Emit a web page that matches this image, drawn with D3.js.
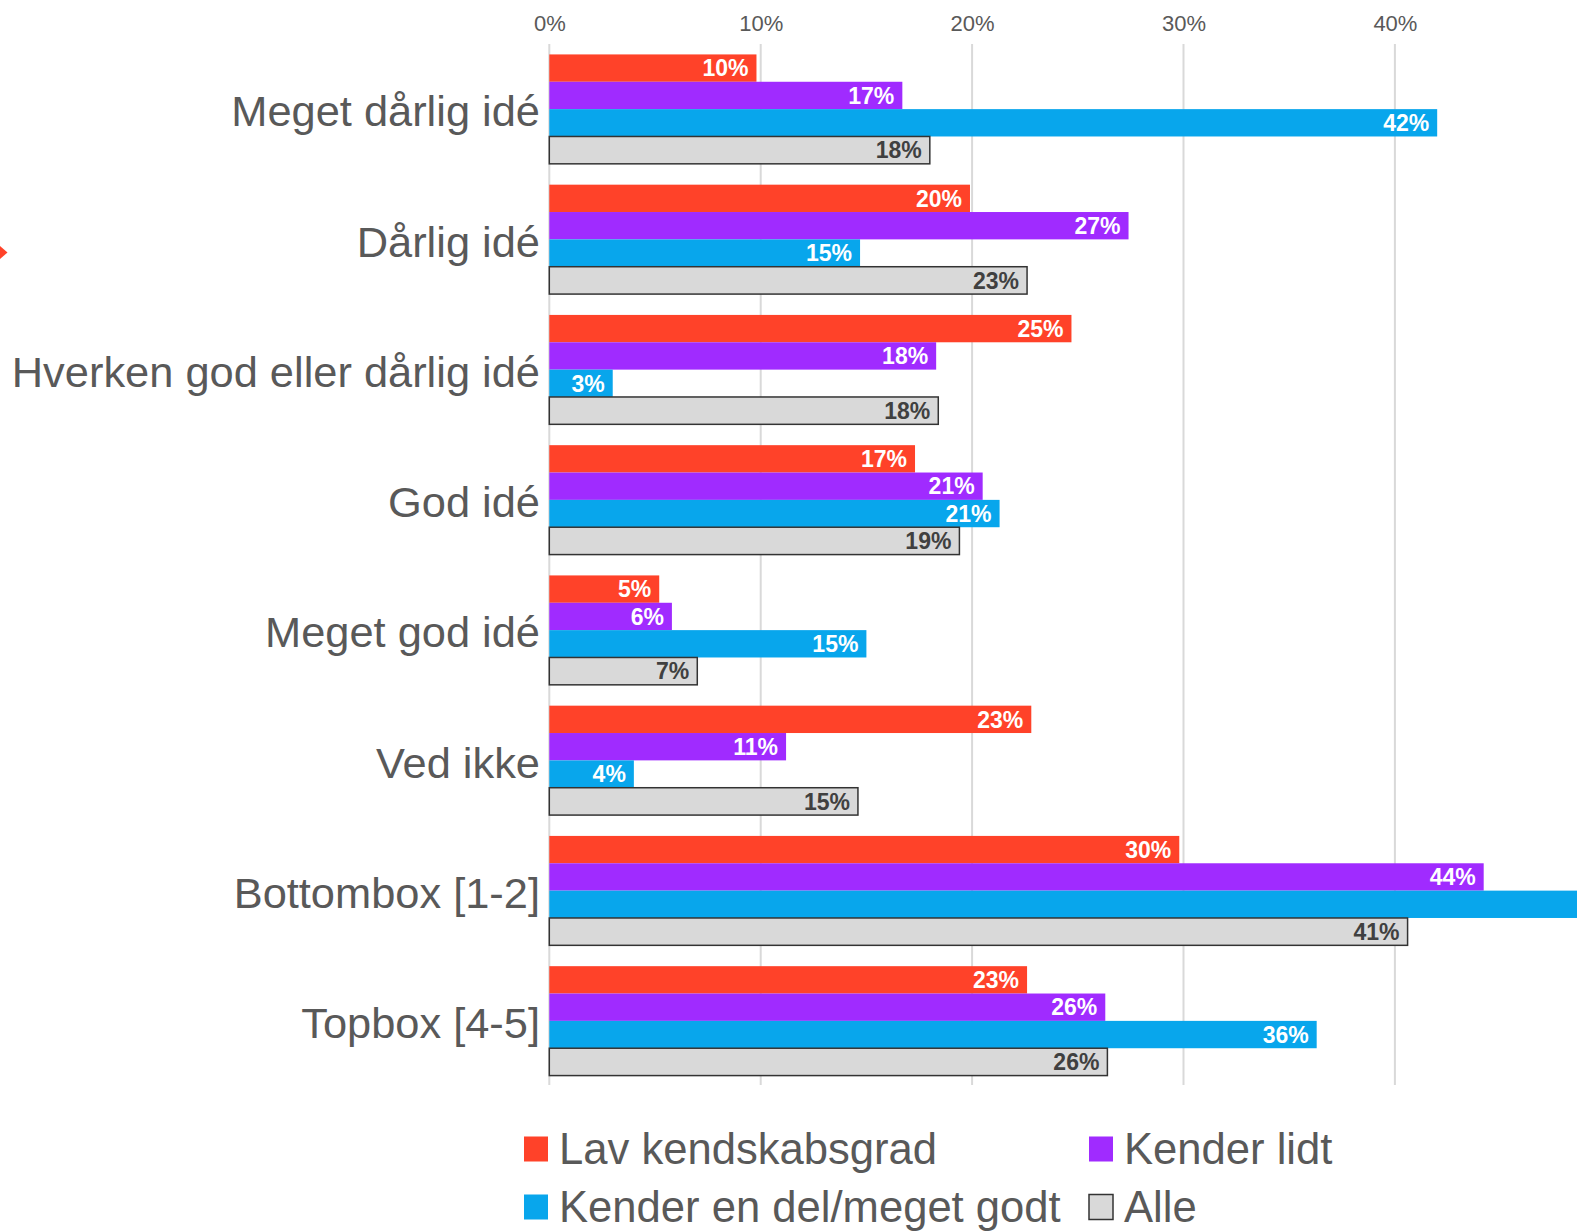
<!DOCTYPE html>

<head>
  <meta charset="utf-8">
  <title>Grouped bar chart</title>
  <script src="https://d3js.org/d3.v7.min.js"></script>
  <style>
    body { margin: 0; background: #fff; }
    svg { display: block; font-family: "Liberation Sans", Arial, sans-serif; }
  </style>
</head>

<body>

  <div id="chart"></div>

  <script type="text/javascript">

    // categories (top to bottom)
    var categories = ['Meget dårlig idé', 'Dårlig idé', 'Hverken god eller dårlig idé', 'God idé',
      'Meget god idé', 'Ved ikke', 'Bottombox [1-2]', 'Topbox [4-5]'];

    // series names
    var seriesNames = ['Lav kendskabsgrad', 'Kender lidt', 'Kender en del/meget godt', 'Alle'];

    // values in percent, one array per series
    var lavKendskab = [9.8, 19.9, 24.7, 17.3, 5.2, 22.8, 29.8, 22.6];
    var kenderLidt = [16.7, 27.4, 18.3, 20.5, 5.8, 11.2, 44.2, 26.3];
    var kenderGodt = [42.0, 14.7, 3.0, 21.3, 15.0, 4.0, 57.0, 36.3];
    var alle = [18.0, 22.6, 18.4, 19.4, 7.0, 14.6, 40.6, 26.4];

    var tickValues = [0, 10, 20, 30, 40];

    var colors = ['#ff4229', '#a02bff', '#08a6ec', '#d9d9d9'];
    var labelColors = ['#ffffff', '#ffffff', '#ffffff', '#404040'];

    var seriesValues = [lavKendskab, kenderLidt, kenderGodt, alle];

    var width = 1577;
    var height = 1231;

    // scales
    var x = d3.scaleLinear()
      .domain([0, 50])
      .range([549.3, 549.3 + 50 * 21.14]);

    var y = d3.scaleBand()
      .domain(categories)
      .range([44, 1086])
      .paddingInner(0.16)
      .paddingOuter(0.08);

    var ySub = d3.scaleBand()
      .domain(seriesNames)
      .range([0, y.bandwidth()]);

    var svg = d3.select('#chart')
      .append('svg')
        .attr('width', width)
        .attr('height', height);

    // vertical gridlines
    svg.append('g')
      .selectAll('line')
      .data(tickValues)
      .join('line')
        .attr('x1', function (d) { return x(d); })
        .attr('x2', function (d) { return x(d); })
        .attr('y1', 44)
        .attr('y2', 1085)
        .attr('stroke', '#d9d9d9')
        .attr('stroke-width', 2);

    // top axis with labels only
    var xAxis = d3.axisTop(x)
      .tickValues(tickValues)
      .tickSize(0)
      .tickPadding(0)
      .tickFormat(function (d) { return d + '%'; });

    var axisG = svg.append('g')
      .attr('transform', 'translate(0,31)')
      .call(xAxis);
    axisG.select('.domain').remove();
    axisG.selectAll('text')
      .attr('font-size', 22)
      .attr('font-family', '"Liberation Sans", Arial, sans-serif')
      .attr('fill', '#595959');

    // category labels
    svg.append('g')
      .selectAll('text')
      .data(categories)
      .join('text')
        .attr('x', 540)
        .attr('y', function (d) { return y(d) + y.bandwidth() / 2 + 2; })
        .attr('dy', '0.35em')
        .attr('text-anchor', 'end')
        .attr('font-size', 43.4)
        .attr('fill', '#595959')
        .text(function (d) { return d; });

    // bars per series
    seriesNames.forEach(function (name, s) {
      var g = svg.append('g');
      var rows = categories.map(function (c, i) {
        return { cat: c, value: seriesValues[s][i] };
      });

      g.selectAll('rect')
        .data(rows)
        .join('rect')
          .attr('x', x(0))
          .attr('y', function (d) { return y(d.cat) + ySub(name); })
          .attr('width', function (d) { return x(d.value) - x(0); })
          .attr('height', ySub.bandwidth())
          .attr('fill', colors[s])
          .attr('stroke', s === 3 ? '#333' : 'none')
          .attr('stroke-width', s === 3 ? 1.5 : 0);

      // labels only where the bar end is inside the picture
      g.selectAll('text')
        .data(rows.filter(function (d) { return x(d.value) < width; }))
        .join('text')
          .attr('x', function (d) { return x(d.value) - 8; })
          .attr('y', function (d) { return y(d.cat) + ySub(name) + ySub.bandwidth() / 2; })
          .attr('dy', '0.36em')
          .attr('text-anchor', 'end')
          .attr('font-size', 23)
          .attr('font-weight', 'bold')
          .attr('fill', labelColors[s])
          .text(function (d) { return Math.round(d.value) + '%'; });
    });

    // legend, two columns
    var legendX = [524, 1089];
    var legendY = [1149, 1207];

    var legend = svg.append('g')
      .selectAll('g')
      .data(seriesNames)
      .join('g')
        .attr('transform', function (d, i) {
          return 'translate(' + legendX[i % 2] + ',' + legendY[Math.floor(i / 2)] + ')';
        });

    legend.append('rect')
      .attr('x', 0)
      .attr('y', -12.5)
      .attr('width', 24)
      .attr('height', 25)
      .attr('fill', function (d, i) { return colors[i]; })
      .attr('stroke', function (d, i) { return i === 3 ? '#333' : 'none'; })
      .attr('stroke-width', 1.5);

    legend.append('text')
      .attr('x', 35)
      .attr('y', 0)
      .attr('dy', '0.35em')
      .attr('font-size', 43.6)
      .attr('fill', '#595959')
      .text(function (d) { return d; });

    // small red marker at the left edge
    svg.append('path')
      .attr('d', 'M0,246L7.5,252.5L0,259Z')
      .attr('fill', '#ff4229');
  </script>
</body>
